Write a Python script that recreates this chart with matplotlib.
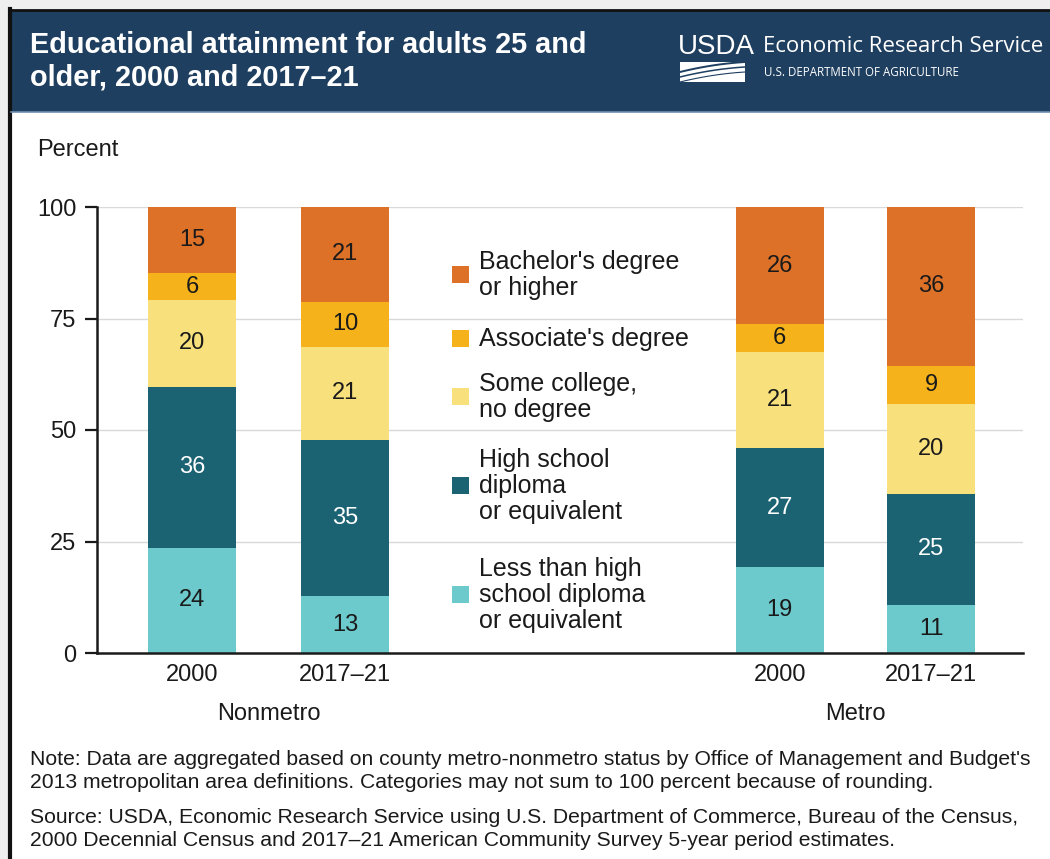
import numpy as np
import matplotlib
matplotlib.use('Agg')
import matplotlib.pyplot as plt
from matplotlib.patches import Rectangle
from matplotlib.lines import Line2D
import matplotlib.transforms as mtransforms

plt.rcParams['font.family'] = ['Liberation Sans', 'DejaVu Sans']

# data (percent shares, bottom to top)
groups = ['Nonmetro', 'Metro']
years = ['2000', '2017\u201321', '2000', '2017\u201321']
categories = ['Less than high\nschool diploma\nor equivalent',
              'High school\ndiploma\nor equivalent',
              'Some college,\nno degree',
              "Associate's degree",
              "Bachelor's degree\nor higher"]
less_hs = [23.6, 12.7, 19.2, 10.8]
high_school = [36.0, 35.0, 26.8, 24.9]
some_college = [19.6, 21.0, 21.4, 20.1]
associate = [5.9, 10.0, 6.3, 8.6]
bachelor = [14.9, 21.3, 26.3, 35.6]
labels_less_hs = [24, 13, 19, 11]
labels_high_school = [36, 35, 27, 25]
labels_some_college = [20, 21, 21, 20]
labels_associate = [6, 10, 6, 9]
labels_bachelor = [15, 21, 26, 36]

series = [less_hs, high_school, some_college, associate, bachelor]
series_labels = [labels_less_hs, labels_high_school, labels_some_college,
                 labels_associate, labels_bachelor]
colors = ['#6ccacc', '#1b6272', '#f8e07c', '#f5b21a', '#dd7128']
text_colors = ['#1a1a1a', 'white', '#1a1a1a', '#1a1a1a', '#1a1a1a']

W, H = 1050, 859
fig = plt.figure(figsize=(W / 100, H / 100), dpi=100)
fig.patch.set_facecolor('white')


def fx(px):
    return px / W


def fy(py):
    return 1 - py / H


# outer frame
fig.patches.append(Rectangle((0, 0), 1, 1, transform=fig.transFigure,
                             facecolor='#efefef', edgecolor='none', zorder=-10))
fig.patches.append(Rectangle((fx(10), 0), 1, fy(10), transform=fig.transFigure,
                             facecolor='white', edgecolor='none', zorder=-9))
fig.add_artist(Line2D([fx(10), fx(10)], [0, fy(9)], transform=fig.transFigure,
                      color='#111111', lw=3))
fig.add_artist(Line2D([fx(9), 1], [fy(10), fy(10)], transform=fig.transFigure,
                      color='#111111', lw=2))

# header band
fig.patches.append(Rectangle((fx(11), fy(112)), 1, fy(11) - fy(112),
                             transform=fig.transFigure, facecolor='#1f3f60',
                             edgecolor='none', zorder=-8))
fig.add_artist(Line2D([fx(11), 1], [fy(112), fy(112)], transform=fig.transFigure,
                      color='#6d8fb0', lw=1.2))
fig.text(fx(30), fy(45), 'Educational attainment for adults 25 and',
         color='white', fontsize=20.8, fontweight='bold', va='center')
fig.text(fx(30), fy(77), 'older, 2000 and 2017\u201321',
         color='white', fontsize=20.8, fontweight='bold', va='center')

# USDA logo
fig.text(fx(678), fy(47), 'USDA', color='white', fontsize=20, va='center')
fig.patches.append(Rectangle((fx(680), fy(82)), fx(745) - fx(680), fy(62) - fy(82),
                             transform=fig.transFigure, facecolor='white',
                             edgecolor='none'))
t = np.linspace(0, 1, 30)
for k, off in enumerate([66, 71, 76]):
    xs = fx(680) + t * (fx(745) - fx(680))
    ys = fy(off + 6 * (1 - t) ** 2 - 4 * t)
    fig.add_artist(Line2D(xs, ys, transform=fig.transFigure, color='#1f3f60',
                          lw=1.4 - 0.3 * k))
fig.text(fx(763), fy(47), 'Economic Research Service', color='white',
         fontsize=16, va='center', family=['Open Sans', 'DejaVu Sans'])
fig.text(fx(764), fy(73), 'U.S. DEPARTMENT OF AGRICULTURE', color='white',
         fontsize=8.3, va='center', family=['Open Sans', 'DejaVu Sans'])

# axes
ax = fig.add_axes([fx(97), fy(653), fx(1023) - fx(97), fy(207) - fy(653)])
x = np.array([0, 1, 3.84, 4.83])
bottom = np.zeros(len(x))
for vals, labs, c, tc in zip(series, series_labels, colors, text_colors):
    vals = np.array(vals)
    ax.bar(x, vals, bottom=bottom, width=0.575, color=c, edgecolor='none', zorder=2)
    for xi, b, v, lab in zip(x, bottom, vals, labs):
        ax.text(xi, b + v / 2, str(lab), ha='center', va='center',
                fontsize=17, color=tc, zorder=3)
    bottom = bottom + vals

ax.set_xlim(-0.62, 5.43)
ax.set_ylim(0, 100)
ax.set_yticks([0, 25, 50, 75, 100])
ax.set_xticks(x)
ax.set_xticklabels(years)
ax.tick_params(axis='y', length=9, width=1.6, pad=6, labelsize=17, colors='#1a1a1a')
ax.tick_params(axis='x', length=0, pad=8, labelsize=17, colors='#1a1a1a')
for yv in [25, 50, 75, 100]:
    ax.axhline(yv, color='#d9d9d9', lw=1, zorder=1)
for s in ['top', 'right']:
    ax.spines[s].set_visible(False)
for s in ['left', 'bottom']:
    ax.spines[s].set_linewidth(1.8)
    ax.spines[s].set_color('#1a1a1a')
    ax.spines[s].set_zorder(4)

# group labels
trans = mtransforms.blended_transform_factory(ax.transData, ax.transAxes)
ax.text((x[0] + x[1]) / 2, -0.137, groups[0], transform=trans, ha='center',
        va='center', fontsize=17, color='#1a1a1a')
ax.text((x[2] + x[3]) / 2, -0.137, groups[1], transform=trans, ha='center',
        va='center', fontsize=17, color='#1a1a1a')

fig.text(fx(37), fy(150), 'Percent', fontsize=17, va='center', color='#1a1a1a')

# legend, drawn in the middle of the plot
leg_y = [595, 486, 397, 339, 275]
for cat, c, py in zip(categories, colors, leg_y):
    ax.add_patch(Rectangle(((452 - 97) / 926, (653 - py - 8) / 446), 17 / 926, 17 / 446,
                           transform=ax.transAxes, facecolor=c, edgecolor='none',
                           clip_on=False, zorder=3))
    ax.text((479 - 97) / 926, (653 - py) / 446, cat, transform=ax.transAxes,
            ha='left', va='center', fontsize=18, linespacing=1.13, color='#1a1a1a')

# notes
fig.text(fx(30), fy(771),
         "Note: Data are aggregated based on county metro-nonmetro status by Office of Management and Budget's\n"
         "2013 metropolitan area definitions. Categories may not sum to 100 percent because of rounding.",
         fontsize=15.2, va='center', linespacing=1.22, color='#1a1a1a')
fig.text(fx(30), fy(829),
         "Source: USDA, Economic Research Service using U.S. Department of Commerce, Bureau of the Census,\n"
         "2000 Decennial Census and 2017\u201321 American Community Survey 5-year period estimates.",
         fontsize=15.2, va='center', linespacing=1.22, color='#1a1a1a')

fig.savefig('out.png', dpi=100)
